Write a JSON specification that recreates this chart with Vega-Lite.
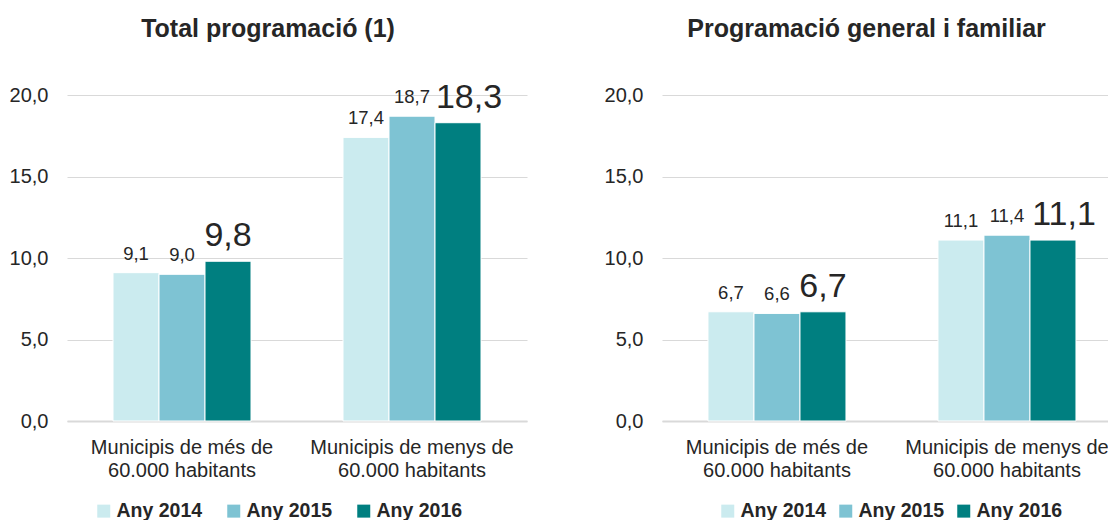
{
  "$schema": "https://vega.github.io/schema/vega-lite/v6.json",
  "padding": {"left": 9, "top": 16, "right": 0, "bottom": 0},
  "data": {
    "values": [
      {"panel": "Total", "municipi": "Municipis de més de 60.000 habitants", "any": "Any 2014", "valor": 9.1},
      {"panel": "Total", "municipi": "Municipis de més de 60.000 habitants", "any": "Any 2015", "valor": 9.0},
      {"panel": "Total", "municipi": "Municipis de més de 60.000 habitants", "any": "Any 2016", "valor": 9.8},
      {"panel": "Total", "municipi": "Municipis de menys de 60.000 habitants", "any": "Any 2014", "valor": 17.4},
      {"panel": "Total", "municipi": "Municipis de menys de 60.000 habitants", "any": "Any 2015", "valor": 18.7},
      {"panel": "Total", "municipi": "Municipis de menys de 60.000 habitants", "any": "Any 2016", "valor": 18.3},
      {"panel": "General", "municipi": "Municipis de més de 60.000 habitants", "any": "Any 2014", "valor": 6.7},
      {"panel": "General", "municipi": "Municipis de més de 60.000 habitants", "any": "Any 2015", "valor": 6.6},
      {"panel": "General", "municipi": "Municipis de més de 60.000 habitants", "any": "Any 2016", "valor": 6.7},
      {"panel": "General", "municipi": "Municipis de menys de 60.000 habitants", "any": "Any 2014", "valor": 11.1},
      {"panel": "General", "municipi": "Municipis de menys de 60.000 habitants", "any": "Any 2015", "valor": 11.4},
      {"panel": "General", "municipi": "Municipis de menys de 60.000 habitants", "any": "Any 2016", "valor": 11.1}
    ]
  },
  "spacing": 77,
  "resolve": {"legend": {"color": "independent"}, "scale": {"x": "independent"}},
  "hconcat": [
    {
      "width": 460,
      "height": 326,
      "title": {"text": "Total programació (1)", "frame": "bounds", "anchor": "middle", "offset": 39},
      "transform": [{"filter": "datum.panel == 'Total'"}],
      "encoding": {
        "x": {"field": "municipi", "type": "nominal", "sort": null,
          "scale": {"paddingInner": 0.4, "paddingOuter": 0.2},
          "axis": {"labelExpr": "datum.value == 'Municipis de més de 60.000 habitants' ? ['Municipis de més de', '60.000 habitants'] : ['Municipis de menys de', '60.000 habitants']"}},
        "xOffset": {"field": "any", "type": "nominal", "sort": null},
        "y": {"field": "valor", "type": "quantitative", "scale": {"domain": [0, 20]}, "axis": {"values": [0, 5, 10, 15, 20]}}
      },
      "layer": [
        {"mark": {"type": "bar", "stroke": "white", "strokeWidth": 1},
          "encoding": {"color": {"field": "any", "type": "nominal",
            "scale": {"domain": ["Any 2014", "Any 2015", "Any 2016"], "range": ["#CBEBEF", "#7EC3D3", "#007F80"]},
            "legend": {"orient": "none", "legendX": 27, "legendY": 406, "direction": "horizontal", "columnPadding": 21}}}},
        {"transform": [{"filter": "datum.any != 'Any 2016'"}],
          "mark": {"type": "text", "baseline": "alphabetic", "dy": -13, "fontSize": 18.5, "color": "#262626", "font": "Liberation Sans"},
          "encoding": {"text": {"field": "valor", "type": "quantitative", "format": ".1f"}}},
        {"transform": [{"filter": "datum.any == 'Any 2016'"}],
          "mark": {"type": "text", "baseline": "alphabetic", "dy": -15, "dx": {"expr": "datum.valor >= 10 ? 11 : 0"}, "fontSize": 34, "color": "#262626", "font": "Liberation Sans"},
          "encoding": {"text": {"field": "valor", "type": "quantitative", "format": ".1f"}}}
      ]
    },
    {
      "width": 447,
      "height": 326,
      "title": {"text": "Programació general i familiar", "frame": "bounds", "anchor": "middle", "offset": 43, "dx": 10},
      "transform": [{"filter": "datum.panel == 'General'"}],
      "encoding": {
        "x": {"field": "municipi", "type": "nominal", "sort": null,
          "scale": {"paddingInner": 0.4, "paddingOuter": 0.1717, "align": 0.582},
          "axis": {"labelExpr": "datum.value == 'Municipis de més de 60.000 habitants' ? ['Municipis de més de', '60.000 habitants'] : ['Municipis de menys de', '60.000 habitants']"}},
        "xOffset": {"field": "any", "type": "nominal", "sort": null},
        "y": {"field": "valor", "type": "quantitative", "scale": {"domain": [0, 20]}, "axis": {"values": [0, 5, 10, 15, 20]}}
      },
      "layer": [
        {"mark": {"type": "bar", "stroke": "white", "strokeWidth": 1},
          "encoding": {"color": {"field": "any", "type": "nominal",
            "scale": {"domain": ["Any 2014", "Any 2015", "Any 2016"], "range": ["#CBEBEF", "#7EC3D3", "#007F80"]},
            "legend": {"orient": "none", "legendX": 56, "legendY": 406, "direction": "horizontal", "columnPadding": 9}}}},
        {"transform": [{"filter": "datum.any != 'Any 2016'"}],
          "mark": {"type": "text", "baseline": "alphabetic", "dy": -13, "fontSize": 18.5, "color": "#262626", "font": "Liberation Sans"},
          "encoding": {"text": {"field": "valor", "type": "quantitative", "format": ".1f"}}},
        {"transform": [{"filter": "datum.any == 'Any 2016'"}],
          "mark": {"type": "text", "baseline": "alphabetic", "dy": -15, "dx": {"expr": "datum.valor >= 10 ? 11 : 0"}, "fontSize": 34, "color": "#262626", "font": "Liberation Sans"},
          "encoding": {"text": {"field": "valor", "type": "quantitative", "format": ".1f"}}}
      ]
    }
  ],
  "config": {
    "locale": {"number": {"decimal": ",", "thousands": ".", "grouping": [3], "currency": ["", " €"]}},
    "font": "Liberation Sans",
    "view": {"stroke": null},
    "title": {"font": "Liberation Sans", "fontSize": 25, "fontWeight": "bold", "color": "#262626"},
    "axisX": {"title": null, "labelAngle": 0, "labelFont": "Liberation Sans", "labelFontSize": 20, "labelColor": "#262626", "ticks": false, "domainColor": "#d9d9d9", "domainWidth": 2, "labelPadding": 16, "labelLineHeight": 23, "labelLimit": 400},
    "axisY": {"title": null, "labelFont": "Liberation Sans", "labelFontSize": 20, "labelColor": "#262626", "ticks": false, "domain": false, "gridColor": "#d9d9d9", "gridWidth": 1, "labelPadding": 19, "format": ".1f"},
    "legend": {"title": null, "labelFont": "Liberation Sans", "labelFontSize": 19.5, "labelFontWeight": "bold", "labelColor": "#262626", "symbolType": "square", "symbolSize": 169, "symbolStrokeWidth": 0, "labelOffset": 3, "padding": 0}
  }
}
